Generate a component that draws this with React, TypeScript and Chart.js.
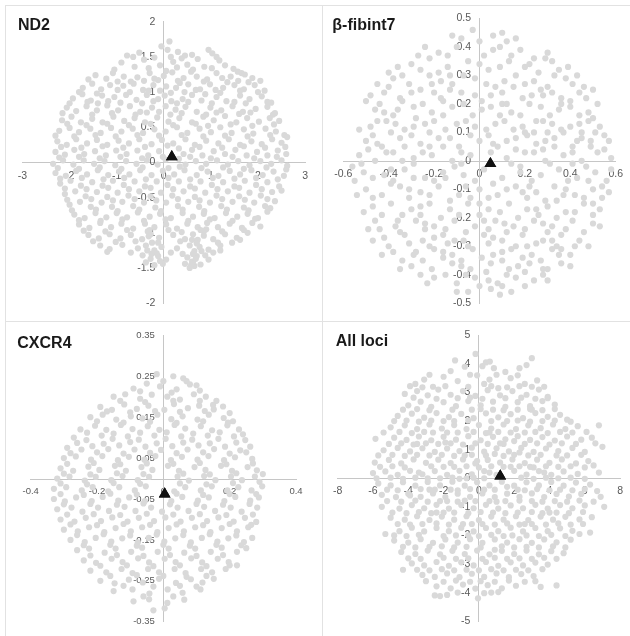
import { useEffect, useRef } from "react";
import { Chart, registerables } from "chart.js";

Chart.register(...registerables);

type P = [number, number];

// ---------- ND2 ----------
const nd2Points: P[] = [
  [0.12,1.72],[-0.05,1.65],[0.08,1.6],[0.95,1.6],[1.03,1.55],[-0.78,1.52],[-0.52,1.56],[0.3,1.57],[0.6,1.53],
  [-0.9,1.42],[-0.62,1.36],[-0.42,1.46],[-0.2,1.49],[-0.08,1.38],[0.2,1.43],[0.38,1.48],[0.5,1.39],[0.72,1.47],[0.86,1.36],[1.18,1.45],[1.3,1.38],[1.48,1.33],[1.57,1.29],
  [-1.45,1.24],[-1.22,1.19],[-1.08,1.27],[-0.85,1.22],[-0.7,1.15],[-0.56,1.21],[-0.3,1.27],[-0.12,1.17],[0.0,1.23],[0.18,1.28],[0.42,1.2],[0.58,1.29],[0.7,1.22],[0.92,1.18],[1.12,1.27],[1.24,1.2],[1.42,1.22],[1.65,1.27],[1.88,1.2],[2.05,1.16],
  [-1.72,1.06],[-1.52,1.12],[-1.33,1.04],[-1.14,1.1],[-0.98,1.03],[-0.86,1.09],[-0.64,1.12],[-0.44,1.03],[-0.22,1.1],[-0.08,1.02],[0.05,1.08],[0.26,1.06],[0.34,1.13],[0.52,1.11],[0.77,1.04],[0.98,1.11],[1.1,1.03],[1.26,1.06],[1.5,1.1],[1.7,1.04],[1.93,1.1],[2.14,1.02],
  [-1.93,0.91],[-1.73,0.97],[-1.55,0.88],[-1.31,0.95],[-1.18,0.87],[-1.05,0.93],[-0.8,0.96],[-0.58,0.89],[-0.36,0.96],[-0.12,0.9],[0.02,0.95],[0.16,0.87],[0.4,0.9],[0.6,0.96],[0.8,0.88],[0.88,0.97],[1.12,0.93],[1.33,0.87],[1.62,0.95],[1.82,0.9],[2.08,0.94],[2.28,0.85],
  [-2.06,0.78],[-1.86,0.73],[-1.64,0.8],[-1.42,0.74],[-1.2,0.81],[-0.97,0.74],[-0.72,0.8],[-0.5,0.72],[-0.25,0.78],[-0.1,0.72],[0.04,0.8],[0.25,0.75],[0.46,0.79],[0.7,0.72],[0.99,0.78],[1.22,0.74],[1.46,0.8],[1.68,0.72],[1.95,0.76],[2.2,0.79],[2.36,0.7],
  [-2.16,0.6],[-1.96,0.65],[-1.76,0.57],[-1.52,0.62],[-1.3,0.57],[-1.07,0.65],[-0.84,0.59],[-0.62,0.63],[-0.4,0.57],[-0.14,0.64],[0.1,0.58],[0.33,0.63],[0.6,0.57],[0.84,0.65],[1.06,0.6],[1.3,0.66],[1.54,0.57],[1.77,0.63],[2.02,0.58],[2.25,0.63],[2.45,0.59],
  [-2.22,0.45],[-2.0,0.49],[-1.8,0.43],[-1.56,0.48],[-1.34,0.42],[-1.12,0.49],[-0.9,0.44],[-0.66,0.48],[-0.44,0.42],[-0.2,0.47],[0.04,0.44],[0.28,0.5],[0.5,0.42],[0.76,0.48],[1.0,0.43],[1.2,0.5],[1.44,0.42],[1.7,0.47],[1.9,0.41],[2.16,0.48],[2.38,0.44],[2.56,0.39],
  [-2.26,0.3],[-2.06,0.25],[-1.86,0.33],[-1.63,0.27],[-1.42,0.32],[-1.2,0.25],[-0.96,0.31],[-0.74,0.27],[-0.52,0.33],[-0.26,0.26],[-0.04,0.32],[0.2,0.27],[0.46,0.33],[0.66,0.25],[0.9,0.31],[1.16,0.27],[1.38,0.33],[1.62,0.25],[1.86,0.3],[2.08,0.26],[2.3,0.33],[2.5,0.28],
  [-2.3,0.15],[-2.1,0.11],[-1.9,0.18],[-1.69,0.12],[-1.46,0.16],[-1.23,0.1],[-1.01,0.17],[-0.79,0.12],[-0.56,0.17],[-0.33,0.1],[-0.1,0.16],[0.42,0.12],[0.6,0.18],[0.82,0.1],[1.06,0.16],[1.3,0.12],[1.52,0.18],[1.76,0.1],[1.98,0.15],[2.2,0.1],[2.42,0.17],[2.6,0.12],
  [-2.35,-0.02],[-2.14,0.03],[-1.92,-0.03],[-1.7,0.03],[-1.48,-0.02],[-1.26,0.02],[-1.03,-0.04],[-0.8,0.02],[-0.58,-0.02],[-0.36,0.03],[-0.13,-0.03],[0.04,0.04],[0.46,-0.03],[0.68,0.02],[0.9,-0.02],[1.13,0.03],[1.36,-0.03],[1.58,0.02],[1.82,-0.04],[2.05,0.02],[2.28,-0.02],[2.5,0.03],[2.62,-0.05],
  [-2.3,-0.15],[-2.08,-0.19],[-1.86,-0.12],[-1.63,-0.17],[-1.4,-0.11],[-1.18,-0.18],[-0.95,-0.13],[-0.73,-0.17],[-0.5,-0.11],[-0.26,-0.18],[-0.02,-0.12],[0.22,-0.17],[0.44,-0.11],[0.7,-0.18],[0.93,-0.13],[1.16,-0.19],[1.4,-0.12],[1.62,-0.17],[1.86,-0.11],[2.1,-0.18],[2.33,-0.13],[2.55,-0.19],
  [-2.2,-0.3],[-1.98,-0.26],[-1.76,-0.33],[-1.52,-0.28],[-1.3,-0.33],[-1.08,-0.26],[-0.85,-0.32],[-0.62,-0.27],[-0.4,-0.34],[-0.15,-0.27],[0.08,-0.32],[0.32,-0.27],[0.56,-0.34],[0.78,-0.27],[1.02,-0.32],[1.26,-0.28],[1.5,-0.34],[1.72,-0.26],[1.96,-0.32],[2.2,-0.28],[2.45,-0.34],
  [-2.1,-0.45],[-1.88,-0.41],[-1.66,-0.48],[-1.42,-0.42],[-1.2,-0.49],[-0.98,-0.43],[-0.75,-0.47],[-0.52,-0.41],[-0.28,-0.48],[-0.06,-0.43],[0.18,-0.47],[0.42,-0.41],[0.66,-0.49],[0.88,-0.43],[1.12,-0.47],[1.36,-0.41],[1.6,-0.48],[1.82,-0.43],[2.06,-0.47],[2.3,-0.42],
  [-2.0,-0.6],[-1.78,-0.56],[-1.55,-0.63],[-1.32,-0.57],[-1.1,-0.63],[-0.88,-0.56],[-0.65,-0.62],[-0.42,-0.57],[-0.18,-0.64],[0.05,-0.57],[0.3,-0.62],[0.52,-0.56],[0.75,-0.63],[0.98,-0.57],[1.22,-0.62],[1.46,-0.56],[1.7,-0.64],[1.92,-0.57],[2.15,-0.62],[2.36,-0.55],
  [-1.9,-0.74],[-1.68,-0.79],[-1.45,-0.72],[-1.22,-0.78],[-1.0,-0.72],[-0.78,-0.78],[-0.55,-0.71],[-0.3,-0.77],[-0.08,-0.73],[0.15,-0.79],[0.4,-0.72],[0.62,-0.77],[0.85,-0.73],[1.08,-0.79],[1.32,-0.72],[1.56,-0.77],[1.78,-0.73],[2.0,-0.79],[2.2,-0.7],
  [-1.8,-0.88],[-1.58,-0.93],[-1.35,-0.86],[-1.12,-0.92],[-0.9,-0.87],[-0.65,-0.94],[-0.4,-0.87],[-0.2,-0.92],[0.05,-0.88],[0.28,-0.94],[0.5,-0.87],[0.72,-0.92],[0.92,-0.86],[1.15,-0.92],[1.4,-0.87],[1.66,-0.93],[1.88,-0.86],[2.05,-0.91],
  [-1.6,-1.03],[-1.38,-1.08],[-1.15,-1.02],[-0.92,-1.08],[-0.7,-1.03],[-0.46,-1.09],[-0.28,-1.02],[-0.1,-1.07],[0.2,-1.03],[0.45,-1.09],[0.62,-1.02],[0.72,-1.1],[0.85,-1.04],[1.05,-1.09],[1.3,-1.02],[1.55,-1.07],[1.78,-1.0],
  [-1.35,-1.18],[-1.15,-1.23],[-0.88,-1.17],[-0.55,-1.22],[-0.38,-1.18],[-0.2,-1.25],[-0.05,-1.2],[0.28,-1.22],[0.55,-1.18],[0.65,-1.26],[0.76,-1.2],[0.95,-1.24],[1.2,-1.18],[1.45,-1.14],
  [-0.45,-1.32],[-0.28,-1.37],[-0.12,-1.33],[0.05,-1.38],[0.5,-1.35],[0.6,-1.41],[0.7,-1.33],[0.88,-1.32],[1.05,-1.28],
  [-0.2,-1.46],[-0.02,-1.44],[0.55,-1.5],[0.65,-1.47],[0.78,-1.45],
  [0.62,-1.3],[0.68,-1.37],[0.7,-1.15],[0.8,-1.26],[0.85,-0.98],[0.9,-0.95],[0.62,-1.43],[0.58,-1.46],[-0.32,-1.05],[-0.25,-1.14],[-0.15,-1.29],[-0.35,-1.25],[-0.3,-0.96],
];
const nd2PointsFill: P[] = [
  [-0.65,1.5],[0.45,1.52],[0.15,1.5],[1.12,1.5],
  [-1.05,1.32],[-0.32,1.34],[0.05,1.3],[0.28,1.35],[0.62,1.32],[1.02,1.34],[1.72,1.25],
  [-1.6,1.18],[-0.98,1.15],[-0.42,1.16],[-0.2,1.19],[0.3,1.16],[0.85,1.15],[1.35,1.14],[1.58,1.16],[1.8,1.14],
  [-1.8,1.0],[-1.42,0.98],[-0.72,1.0],[-0.32,1.02],[0.15,0.99],[0.44,1.0],[0.68,1.03],[1.2,0.99],[1.62,1.02],[2.0,1.0],
  [-2.0,0.84],[-1.62,0.86],[-1.4,0.84],[-0.92,0.85],[-0.46,0.84],[-0.22,0.87],[0.28,0.84],[0.52,0.86],[1.02,0.84],[1.5,0.86],[1.74,0.84],[2.2,0.86],
  [-2.15,0.7],[-1.52,0.68],[-1.1,0.7],[-0.6,0.68],[-0.36,0.71],[0.14,0.68],[0.38,0.7],[0.9,0.68],[1.12,0.71],[1.6,0.69],[1.84,0.71],[2.32,0.68],
  [-2.05,0.55],[-1.64,0.53],[-1.2,0.55],[-0.74,0.53],[-0.28,0.55],[0.2,0.53],[0.68,0.55],[0.94,0.52],[1.42,0.54],[1.88,0.52],[2.34,0.54],
  [-2.3,0.38],[-1.9,0.37],[-1.45,0.39],[-1.02,0.37],[-0.56,0.39],[-0.1,0.38],[0.38,0.39],[0.84,0.37],[1.3,0.38],[1.78,0.37],[2.26,0.39],[2.62,0.36],
  [-2.18,0.22],[-1.75,0.21],[-1.3,0.23],[-0.86,0.21],[-0.4,0.22],[0.08,0.24],[0.32,0.2],[0.76,0.22],[1.24,0.21],[1.7,0.23],[2.15,0.21],[2.58,0.22],
  [-2.22,0.07],[-1.8,0.08],[-1.36,0.06],[-0.92,0.08],[-0.46,0.06],[-0.02,0.08],[0.32,0.05],[0.56,0.08],[1.0,0.06],[1.46,0.08],[1.92,0.06],[2.4,0.08],
  [-2.25,-0.08],[-1.8,-0.09],[-1.36,-0.07],[-0.9,-0.09],[-0.45,-0.07],[0.1,-0.08],[0.34,-0.06],[0.8,-0.08],[1.26,-0.07],[1.7,-0.09],[2.18,-0.07],[2.6,-0.1],
  [-2.2,-0.23],[-1.74,-0.22],[-1.28,-0.24],[-0.84,-0.22],[-0.38,-0.24],[0.1,-0.22],[0.56,-0.24],[1.04,-0.22],[1.5,-0.23],[1.96,-0.22],[2.42,-0.24],
  [-2.1,-0.37],[-1.64,-0.38],[-1.18,-0.36],[-0.74,-0.38],[-0.28,-0.36],[0.2,-0.38],[0.66,-0.37],[1.14,-0.38],[1.6,-0.36],[2.08,-0.38],[2.5,-0.4],
  [-2.05,-0.53],[-1.54,-0.52],[-1.08,-0.54],[-0.62,-0.52],[-0.16,-0.54],[0.3,-0.52],[0.76,-0.54],[1.24,-0.52],[1.72,-0.53],[2.2,-0.52],
  [-1.95,-0.68],[-1.44,-0.67],[-0.98,-0.69],[-0.52,-0.67],[-0.06,-0.69],[0.4,-0.67],[0.86,-0.69],[1.34,-0.67],[1.8,-0.68],[2.26,-0.65],
  [-1.8,-0.82],[-1.34,-0.83],[-0.88,-0.81],[-0.42,-0.83],[0.04,-0.81],[0.52,-0.83],[0.98,-0.81],[1.46,-0.83],[1.94,-0.8],
  [-1.7,-0.97],[-1.24,-0.98],[-0.78,-0.96],[-0.34,-0.98],[0.1,-0.96],[0.38,-0.99],[0.78,-0.96],[1.24,-0.98],[1.7,-0.96],
  [-1.5,-1.12],[-1.02,-1.13],[-0.6,-1.12],[-0.12,-1.14],[0.35,-1.12],[0.6,-1.1],[1.15,-1.14],[1.62,-1.1],
  [-1.2,-1.27],[-0.7,-1.28],[-0.26,-1.3],[0.15,-1.28],[0.4,-1.3],[1.2,-1.25],
  [-0.38,-1.42],[-0.08,-1.4],[0.45,-1.44],[0.95,-1.38],
];
const nd2Mean: P[] = [[0.17, 0.08]];
const nd2XTicks = [-3, -2, -1, 0, 1, 2, 3];
const nd2YTicks = [-2, -1.5, -1, -0.5, 0, 0.5, 1, 1.5, 2];

// ---------- β-fibint7 ----------
const fibPoints: P[] = [
  [-0.03,0.46],[0.06,0.44],[0.12,0.42],[-0.08,0.43],
  [-0.18,0.38],[-0.1,0.4],[0.02,0.37],[0.09,0.4],[0.18,0.39],[0.24,0.36],
  [-0.3,0.34],[-0.22,0.36],[-0.14,0.33],[-0.05,0.35],[0.04,0.32],[0.13,0.35],[0.2,0.33],[0.29,0.36],[0.35,0.32],
  [-0.38,0.29],[-0.31,0.27],[-0.22,0.3],[-0.12,0.27],[-0.02,0.29],[0.07,0.26],[0.16,0.3],[0.24,0.28],[0.33,0.3],[0.41,0.27],
  [-0.42,0.24],[-0.35,0.22],[-0.26,0.25],[-0.17,0.22],[-0.08,0.24],[0.01,0.21],[0.1,0.24],[0.19,0.22],[0.27,0.25],[0.36,0.22],[0.44,0.24],
  [-0.46,0.18],[-0.38,0.16],[-0.29,0.19],[-0.21,0.17],[-0.12,0.19],[-0.03,0.16],[0.05,0.19],[0.14,0.17],[0.22,0.2],[0.31,0.16],[0.4,0.19],[0.48,0.17],
  [-0.48,0.12],[-0.41,0.14],[-0.33,0.11],[-0.24,0.13],[-0.15,0.11],[-0.06,0.14],[0.03,0.11],[0.11,0.14],[0.19,0.12],[0.28,0.14],[0.36,0.11],[0.44,0.13],[0.51,0.1],
  [-0.5,0.07],[-0.43,0.05],[-0.35,0.08],[-0.26,0.06],[-0.18,0.08],[-0.09,0.05],[0.0,0.07],[0.08,0.05],[0.16,0.08],[0.25,0.06],[0.33,0.08],[0.41,0.05],[0.49,0.07],[0.55,0.09],
  [-0.53,0.02],[-0.46,0.0],[-0.38,0.03],[-0.29,0.01],[-0.21,0.02],[-0.12,0.0],[-0.04,0.02],[0.12,0.01],[0.2,0.03],[0.29,0.0],[0.37,0.02],[0.45,0.0],[0.52,0.03],[0.58,0.01],
  [-0.51,-0.04],[-0.42,-0.05],[-0.33,-0.03],[-0.24,-0.06],[-0.16,-0.04],[-0.07,-0.05],[0.02,-0.03],[0.1,-0.06],[0.18,-0.04],[0.27,-0.05],[0.35,-0.03],[0.43,-0.06],[0.51,-0.04],[0.56,-0.07],
  [-0.5,-0.1],[-0.43,-0.12],[-0.35,-0.09],[-0.26,-0.11],[-0.18,-0.09],[-0.09,-0.12],[0.0,-0.1],[0.08,-0.12],[0.16,-0.09],[0.25,-0.11],[0.33,-0.09],[0.42,-0.12],[0.5,-0.1],
  [-0.47,-0.16],[-0.39,-0.15],[-0.3,-0.17],[-0.22,-0.15],[-0.13,-0.17],[-0.05,-0.15],[0.04,-0.17],[0.13,-0.15],[0.21,-0.17],[0.3,-0.16],[0.38,-0.18],[0.46,-0.15],[0.53,-0.17],
  [-0.46,-0.21],[-0.37,-0.23],[-0.28,-0.21],[-0.2,-0.23],[-0.11,-0.21],[-0.02,-0.23],[0.07,-0.21],[0.15,-0.23],[0.24,-0.21],[0.32,-0.23],[0.41,-0.21],[0.5,-0.22],
  [-0.42,-0.27],[-0.33,-0.26],[-0.25,-0.28],[-0.16,-0.26],[-0.07,-0.28],[0.02,-0.26],[0.1,-0.28],[0.19,-0.26],[0.28,-0.28],[0.36,-0.26],[0.44,-0.28],
  [-0.38,-0.32],[-0.29,-0.33],[-0.2,-0.31],[-0.12,-0.33],[-0.03,-0.31],[0.06,-0.33],[0.14,-0.31],[0.23,-0.33],[0.32,-0.31],[0.4,-0.33],
  [-0.3,-0.37],[-0.21,-0.38],[-0.12,-0.36],[-0.04,-0.38],[0.05,-0.36],[0.13,-0.38],[0.22,-0.36],[0.3,-0.38],[0.36,-0.36],
  [-0.2,-0.41],[-0.1,-0.43],[-0.02,-0.41],[0.08,-0.43],[0.16,-0.41],[0.24,-0.42],
  [-0.05,-0.46],[0.05,-0.45],[0.14,-0.46],
  [0.0,0.42],[0.1,0.45],[-0.14,0.37],[0.14,0.37],[0.22,0.34],[-0.26,0.32],[-0.18,0.31],[0.0,0.34],[0.26,0.31],[0.38,0.29],[-0.34,0.3],[-0.07,0.3],[0.11,0.28],[0.2,0.27],[0.3,0.26],
  [-0.4,0.26],[-0.3,0.24],[-0.21,0.27],[-0.13,0.25],[0.05,0.23],[0.15,0.26],[0.23,0.23],[0.32,0.24],[0.4,0.21],[0.47,0.22],[-0.44,0.2],[-0.34,0.21],[-0.25,0.2],[-0.16,0.21],[-0.07,0.2],
  [0.01,0.18],[0.1,0.2],[0.18,0.16],[0.27,0.19],[0.35,0.18],[0.44,0.16],[-0.45,0.14],[-0.37,0.13],[-0.28,0.15],[-0.2,0.14],[-0.1,0.13],[0.07,0.13],[0.15,0.11],[0.24,0.1],[0.32,0.13],
  [0.4,0.12],[0.48,0.14],[0.53,0.12],[-0.47,0.09],[-0.39,0.1],[-0.3,0.09],[-0.22,0.1],[-0.13,0.08],[-0.04,0.09],[0.04,0.09],[0.12,0.07],[0.21,0.09],[0.29,0.07],[0.37,0.1],[0.45,0.08],
  [-0.49,0.04],[-0.41,0.03],[-0.33,0.05],[-0.25,0.03],[-0.16,0.05],[-0.08,0.03],[0.16,0.04],[0.24,0.03],[0.33,0.05],[0.41,0.03],[0.49,0.05],[0.55,0.04],[-0.52,-0.01],[-0.47,-0.06],[-0.38,-0.07],
  [-0.29,-0.01],[-0.2,-0.07],[-0.11,-0.02],[0.06,-0.08],[0.14,-0.01],[0.23,-0.07],[0.31,-0.01],[0.39,-0.07],[0.47,-0.02],[0.54,-0.09],[-0.47,-0.13],[-0.39,-0.08],[-0.31,-0.13],[-0.22,-0.12],[-0.13,-0.14],
  [-0.04,-0.13],[0.04,-0.13],[0.12,-0.1],[0.21,-0.13],[0.29,-0.14],[0.37,-0.12],[0.46,-0.13],[0.54,-0.13],[-0.43,-0.19],[-0.34,-0.19],[-0.26,-0.19],[-0.17,-0.2],[-0.09,-0.19],[0.0,-0.19],[0.09,-0.18],
  [0.17,-0.2],[0.26,-0.19],[0.34,-0.2],[0.42,-0.18],[0.5,-0.19],[-0.44,-0.24],[-0.35,-0.25],[-0.24,-0.24],[-0.15,-0.24],[-0.06,-0.25],[0.04,-0.24],[0.12,-0.25],[0.2,-0.24],[0.3,-0.25],[0.38,-0.24],
  [0.46,-0.25],[-0.4,-0.3],[-0.31,-0.29],[-0.22,-0.3],[-0.14,-0.29],[-0.05,-0.3],[0.04,-0.29],[0.16,-0.3],[0.25,-0.29],[0.34,-0.3],[0.42,-0.3],[-0.34,-0.35],[-0.25,-0.35],[-0.16,-0.34],[-0.08,-0.35],
  [0.01,-0.34],[0.1,-0.35],[0.19,-0.34],[0.27,-0.35],[0.35,-0.33],[-0.26,-0.4],[-0.15,-0.4],[-0.06,-0.4],[0.03,-0.39],[0.12,-0.4],[0.2,-0.39],[0.28,-0.4],[0.0,-0.44],[0.1,-0.44],
];
const fibPointsFill: P[] = [
  [-0.12,0.44],[0.16,0.43],[-0.24,0.4],[0.06,0.39],[0.3,0.38],[-0.36,0.33],[0.09,0.33],[0.39,0.33],[-0.45,0.27],[-0.17,0.28],[0.03,0.27],[0.28,0.23],[0.46,0.26],
  [-0.5,0.21],[-0.2,0.24],[-0.02,0.23],[0.36,0.2],[0.52,0.2],[-0.42,0.17],[-0.16,0.16],[0.09,0.16],[0.25,0.14],[0.5,0.15],[-0.53,0.11],[-0.29,0.12],[-0.02,0.12],[0.2,0.1],[0.45,0.1],[0.57,0.07],
  [-0.45,0.06],[-0.22,0.05],[0.05,0.03],[0.28,0.04],[0.43,0.07],[-0.56,-0.02],[-0.34,0.0],[-0.08,-0.01],[0.18,-0.02],[0.41,-0.01],[0.58,-0.03],[-0.55,-0.07],[-0.29,-0.06],[-0.02,-0.07],[0.22,-0.09],[0.48,-0.07],
  [-0.54,-0.12],[-0.31,-0.1],[-0.06,-0.09],[0.19,-0.11],[0.38,-0.1],[0.57,-0.11],[-0.51,-0.18],[-0.26,-0.16],[0.0,-0.15],[0.25,-0.17],[0.5,-0.15],[-0.49,-0.24],[-0.24,-0.22],[0.02,-0.21],[0.28,-0.22],[0.53,-0.23],
  [-0.47,-0.28],[-0.2,-0.27],[0.06,-0.27],[0.32,-0.28],[0.48,-0.3],[-0.43,-0.33],[-0.16,-0.32],[0.1,-0.32],[0.36,-0.31],[-0.35,-0.38],[-0.08,-0.37],[0.17,-0.37],[0.4,-0.37],[-0.23,-0.43],[0.04,-0.42],[0.2,-0.44],[0.3,-0.42],
  [-0.1,-0.46],[0.09,-0.47],[-0.27,0.37],[0.32,0.35],[-0.4,0.31],[0.43,0.3],[-0.48,0.23],[0.5,0.25],[-0.13,0.3],[0.12,0.2],[-0.36,0.18],[0.3,0.1],[-0.39,-0.03],[0.06,0.06],[-0.15,-0.06],[0.34,-0.14],
  [-0.36,-0.21],[0.11,-0.22],[-0.11,-0.28],[0.21,-0.3],[-0.28,-0.32],[0.28,-0.38],
];
const fibMean: P[] = [[0.048, -0.01]];
const fibXTicks = [-0.6, -0.4, -0.2, 0, 0.2, 0.4, 0.6];
const fibYTicks = [-0.5, -0.4, -0.3, -0.2, -0.1, 0, 0.1, 0.2, 0.3, 0.4, 0.5];

// ---------- CXCR4 ----------
const cxPoints: P[] = [
  [-0.02,0.255],[0.03,0.25],[0.06,0.245],
  [-0.09,0.22],[-0.05,0.232],[-0.01,0.225],[0.04,0.218],[0.08,0.23],[0.11,0.215],
  [-0.15,0.2],[-0.115,0.206],[-0.07,0.195],[-0.035,0.205],[0.012,0.2],[0.05,0.193],[0.092,0.206],[0.128,0.2],[0.16,0.19],
  [-0.19,0.175],[-0.155,0.168],[-0.118,0.181],[-0.08,0.17],[-0.045,0.178],[0.003,0.168],[0.032,0.182],[0.074,0.172],[0.108,0.178],[0.152,0.169],[0.18,0.176],
  [-0.22,0.15],[-0.183,0.156],[-0.142,0.144],[-0.098,0.152],[-0.063,0.147],[-0.018,0.156],[0.024,0.145],[0.058,0.152],[0.103,0.144],[0.137,0.156],[0.182,0.148],[0.21,0.14],
  [-0.25,0.12],[-0.206,0.129],[-0.172,0.119],[-0.128,0.131],[-0.093,0.121],[-0.047,0.128],[-0.012,0.119],[0.034,0.131],[0.066,0.122],[0.113,0.128],[0.147,0.118],[0.193,0.13],[0.228,0.12],
  [-0.27,0.1],[-0.232,0.094],[-0.186,0.105],[-0.153,0.097],[-0.107,0.103],[-0.074,0.095],[-0.027,0.105],[0.007,0.097],[0.054,0.103],[0.087,0.095],[0.134,0.105],[0.166,0.097],[0.213,0.103],[0.247,0.094],
  [-0.29,0.075],[-0.247,0.071],[-0.214,0.079],[-0.166,0.072],[-0.133,0.081],[-0.087,0.071],[-0.054,0.078],[-0.007,0.07],[0.027,0.079],[0.073,0.071],[0.106,0.081],[0.153,0.072],[0.186,0.078],[0.232,0.069],[0.262,0.078],
  [-0.3,0.05],[-0.264,0.054],[-0.218,0.046],[-0.184,0.055],[-0.137,0.045],[-0.104,0.053],[-0.057,0.046],[-0.024,0.055],[0.023,0.045],[0.056,0.053],[0.103,0.046],[0.136,0.055],[0.183,0.045],[0.216,0.052],[0.268,0.048],
  [-0.31,0.025],[-0.272,0.019],[-0.226,0.029],[-0.193,0.021],[-0.146,0.031],[-0.113,0.019],[-0.066,0.028],[-0.033,0.021],[0.014,0.031],[0.047,0.019],[0.094,0.028],[0.127,0.021],[0.174,0.031],[0.207,0.019],[0.254,0.028],[0.282,0.02],
  [-0.32,0.0],[-0.283,0.005],[-0.237,-0.005],[-0.204,0.004],[-0.157,-0.004],[-0.123,0.006],[-0.077,-0.004],[-0.043,0.004],[0.043,0.005],[0.077,-0.005],[0.123,0.006],[0.157,-0.004],[0.204,0.005],[0.237,-0.004],[0.276,0.005],[0.3,0.011],
  [-0.33,-0.025],[-0.293,-0.021],[-0.246,-0.029],[-0.213,-0.021],[-0.166,-0.031],[-0.133,-0.021],[-0.086,-0.029],[-0.053,-0.019],[0.033,-0.031],[0.066,-0.021],[0.113,-0.029],[0.146,-0.019],[0.193,-0.029],[0.226,-0.021],[0.266,-0.029],[0.298,-0.019],
  [-0.33,-0.05],[-0.297,-0.056],[-0.263,-0.046],[-0.216,-0.055],[-0.183,-0.045],[-0.136,-0.054],[-0.103,-0.046],[-0.056,-0.055],[0.024,-0.055],[0.057,-0.045],[0.104,-0.054],[0.137,-0.046],[0.184,-0.055],[0.217,-0.045],[0.262,-0.054],[0.288,-0.046],
  [-0.32,-0.075],[-0.277,-0.071],[-0.244,-0.081],[-0.197,-0.071],[-0.164,-0.079],[-0.117,-0.069],[-0.084,-0.079],[-0.037,-0.071],[-0.004,-0.081],[0.043,-0.071],[0.076,-0.079],[0.123,-0.069],[0.156,-0.079],[0.203,-0.071],[0.236,-0.081],[0.283,-0.071],
  [-0.31,-0.1],[-0.268,-0.105],[-0.234,-0.096],[-0.188,-0.104],[-0.154,-0.095],[-0.108,-0.105],[-0.074,-0.096],[-0.028,-0.104],[0.006,-0.095],[0.052,-0.105],[0.086,-0.096],[0.132,-0.104],[0.166,-0.095],[0.212,-0.105],[0.246,-0.096],[0.28,-0.106],
  [-0.3,-0.125],[-0.258,-0.129],[-0.224,-0.119],[-0.178,-0.131],[-0.144,-0.121],[-0.098,-0.129],[-0.064,-0.119],[-0.018,-0.131],[0.016,-0.121],[0.062,-0.129],[0.096,-0.119],[0.142,-0.131],[0.176,-0.121],[0.222,-0.129],[0.256,-0.119],
  [-0.28,-0.15],[-0.237,-0.155],[-0.204,-0.145],[-0.157,-0.154],[-0.124,-0.146],[-0.077,-0.156],[-0.044,-0.145],[0.003,-0.154],[0.036,-0.146],[0.083,-0.156],[0.116,-0.145],[0.163,-0.154],[0.196,-0.146],[0.243,-0.155],[0.268,-0.145],
  [-0.26,-0.175],[-0.224,-0.171],[-0.177,-0.181],[-0.144,-0.171],[-0.097,-0.179],[-0.064,-0.169],[-0.017,-0.179],[0.016,-0.171],[0.063,-0.181],[0.096,-0.171],[0.143,-0.179],[0.176,-0.169],[0.222,-0.179],[0.25,-0.17],
  [-0.24,-0.2],[-0.203,-0.206],[-0.156,-0.196],[-0.123,-0.204],[-0.076,-0.195],[-0.043,-0.205],[0.004,-0.196],[0.037,-0.204],[0.084,-0.195],[0.117,-0.205],[0.164,-0.196],[0.197,-0.204],[0.222,-0.212],
  [-0.22,-0.225],[-0.172,-0.229],[-0.126,-0.221],[-0.093,-0.231],[-0.046,-0.221],[-0.013,-0.229],[0.034,-0.221],[0.067,-0.231],[0.114,-0.221],[0.147,-0.229],[0.188,-0.221],
  [-0.19,-0.25],[-0.147,-0.256],[-0.104,-0.247],[-0.062,-0.254],[-0.013,-0.245],[0.038,-0.255],[0.083,-0.246],[0.118,-0.254],[0.152,-0.245],
  [-0.15,-0.275],[-0.093,-0.271],[-0.042,-0.281],[0.013,-0.271],[0.058,-0.279],[0.112,-0.271],
  [-0.09,-0.3],[-0.043,-0.295],[0.012,-0.304],[0.063,-0.296],
  [-0.03,-0.322],[0.004,-0.317],
];
const cxPointsFill: P[] = [
  [0.0,0.238],[0.07,0.238],[-0.07,0.213],[0.025,0.21],[0.1,0.228],[-0.13,0.19],[-0.055,0.187],[0.03,0.19],[0.11,0.19],[0.15,0.18],[-0.17,0.164],[-0.1,0.162],[-0.025,0.165],[0.05,0.163],[0.125,0.165],[0.2,0.16],
  [-0.2,0.14],[-0.12,0.137],[-0.04,0.139],[0.04,0.136],[0.12,0.14],[0.195,0.137],[-0.23,0.112],[-0.15,0.11],[-0.07,0.112],[0.01,0.113],[0.09,0.11],[0.17,0.113],[0.24,0.108],[-0.26,0.087],[-0.18,0.085],[-0.1,0.089],
  [-0.02,0.086],[0.06,0.088],[0.14,0.086],[0.22,0.088],[-0.28,0.062],[-0.2,0.064],[-0.12,0.061],[-0.04,0.063],[0.04,0.062],[0.12,0.064],[0.2,0.061],[0.25,0.064],[-0.29,0.036],[-0.21,0.038],[-0.13,0.035],[-0.05,0.037],
  [0.03,0.036],[0.11,0.038],[0.19,0.035],[0.27,0.037],[-0.3,0.012],[-0.22,0.01],[-0.14,0.013],[-0.06,0.011],[0.06,0.012],[0.14,0.01],[0.22,0.013],[0.29,-0.008],[-0.31,-0.012],[-0.23,-0.014],[-0.15,-0.011],[-0.07,-0.013],
  [0.05,-0.012],[0.13,-0.014],[0.21,-0.011],[0.28,-0.038],[-0.31,-0.038],[-0.24,-0.04],[-0.16,-0.037],[-0.08,-0.039],[0.04,-0.037],[0.12,-0.04],[0.2,-0.038],[-0.3,-0.063],[-0.22,-0.062],[-0.14,-0.064],[-0.06,-0.061],
  [0.02,-0.063],[0.1,-0.062],[0.18,-0.064],[0.26,-0.062],[-0.29,-0.088],[-0.21,-0.087],[-0.13,-0.089],[-0.05,-0.086],[0.03,-0.088],[0.11,-0.087],[0.19,-0.089],[0.27,-0.088],[-0.28,-0.112],[-0.2,-0.114],[-0.12,-0.111],
  [-0.04,-0.113],[0.04,-0.112],[0.12,-0.114],[0.2,-0.111],[0.265,-0.113],[-0.26,-0.138],[-0.18,-0.136],[-0.1,-0.139],[-0.02,-0.137],[0.06,-0.138],[0.14,-0.136],[0.22,-0.139],[-0.24,-0.163],[-0.16,-0.162],
  [-0.08,-0.164],[0.0,-0.162],[0.08,-0.164],[0.16,-0.162],[0.235,-0.163],[-0.22,-0.188],[-0.14,-0.187],[-0.06,-0.189],[0.02,-0.187],[0.1,-0.189],[0.18,-0.187],[-0.19,-0.213],[-0.11,-0.212],[-0.03,-0.214],[0.05,-0.212],
  [0.13,-0.214],[0.2,-0.212],[-0.16,-0.238],[-0.08,-0.236],[0.0,-0.238],[0.07,-0.24],[0.13,-0.238],[-0.12,-0.262],[-0.03,-0.264],[0.05,-0.262],[0.1,-0.264],[-0.06,-0.288],[0.03,-0.288],
];
const cxMean: P[] = [[0.004, -0.038]];
const cxXTicks = [-0.4, -0.2, 0, 0.2, 0.4];
const cxYTicks = [-0.35, -0.25, -0.15, -0.05, 0.05, 0.15, 0.25, 0.35];

// ---------- All loci ----------
const allPoints: P[] = [
  [-1.35,4.12],[-0.19,4.35],[0.4,4.05],[0.62,4.08],[0.85,3.85],[2.3,3.85],[2.7,3.96],[3.0,4.2],
  [-3.6,3.3],[-3.1,3.45],[-2.6,3.2],[-2.0,3.55],[-1.2,3.4],[-0.5,3.62],[0.3,3.3],[0.6,3.45],[1.1,3.15],[1.8,3.5],[2.6,3.3],[3.3,3.42],[-1.6,3.75],[-0.8,3.9],[0.2,3.92],[1.5,3.72],[3.7,3.2],
  [-4.2,2.95],[-3.5,3.05],[-2.9,2.9],[-2.3,3.1],[-1.6,2.92],[-0.9,3.05],[-0.2,2.88],[0.5,3.08],[1.2,2.9],[1.9,3.05],[2.7,2.92],[3.4,3.1],[3.9,2.85],
  [-4.0,2.55],[-3.3,2.68],[-2.7,2.5],[-2.0,2.66],[-1.3,2.52],[-0.6,2.7],[0.1,2.55],[0.8,2.68],[1.5,2.5],[2.2,2.66],[2.9,2.52],[3.6,2.7],[4.3,2.58],
  [-4.6,2.18],[-3.8,2.26],[-3.1,2.12],[-2.4,2.28],[-1.7,2.14],[-1.0,2.25],[-0.3,2.1],[0.4,2.27],[1.1,2.13],[1.8,2.24],[2.5,2.1],[3.2,2.28],[3.9,2.15],[4.6,2.22],[5.0,2.05],
  [-5.0,1.78],[-4.2,1.85],[-3.5,1.72],[-2.8,1.88],[-2.1,1.74],[-1.4,1.86],[-0.7,1.72],[0.0,1.86],[0.7,1.74],[1.4,1.88],[2.1,1.72],[2.8,1.85],[3.5,1.75],[4.2,1.88],[4.9,1.72],[5.6,1.82],[6.8,1.85],
  [-5.86,1.38],[-4.8,1.42],[-4.1,1.34],[-3.4,1.46],[-2.7,1.33],[-2.0,1.45],[-1.3,1.35],[-0.6,1.47],[0.1,1.33],[0.8,1.45],[1.5,1.36],[2.2,1.47],[2.9,1.34],[3.6,1.44],[4.3,1.32],[5.0,1.46],[5.8,1.35],[6.4,1.42],
  [-5.4,0.98],[-4.6,1.06],[-3.9,0.94],[-3.2,1.05],[-2.5,0.92],[-1.8,1.04],[-1.1,0.95],[-0.4,1.07],[0.3,0.93],[1.0,1.05],[1.7,0.94],[2.4,1.06],[3.1,0.92],[3.8,1.04],[4.5,0.95],[5.3,1.06],[6.0,0.92],[7.0,1.1],
  [-5.9,0.55],[-5.1,0.64],[-4.4,0.52],[-3.7,0.66],[-3.0,0.54],[-2.3,0.65],[-1.6,0.53],[-0.9,0.66],[-0.2,0.52],[0.5,0.64],[1.2,0.55],[1.9,0.66],[2.6,0.53],[3.3,0.65],[4.0,0.54],[4.7,0.66],[5.5,0.52],[6.2,0.6],
  [-6.0,0.18],[-5.3,0.24],[-4.6,0.12],[-3.9,0.26],[-3.2,0.14],[-2.5,0.25],[-1.8,0.12],[-1.1,0.26],[-0.4,0.14],[0.3,0.25],[1.0,0.12],[2.0,0.26],[2.7,0.13],[3.4,0.25],[4.1,0.12],[4.8,0.24],[5.6,0.15],[6.8,0.2],
  [-5.7,-0.18],[-5.0,-0.25],[-4.3,-0.14],[-3.6,-0.26],[-2.9,-0.13],[-2.2,-0.25],[-1.5,-0.12],[-0.8,-0.26],[-0.1,-0.14],[0.6,-0.25],[1.3,-0.12],[2.0,-0.26],[2.7,-0.14],[3.4,-0.25],[4.1,-0.13],[4.8,-0.26],[5.5,-0.15],[6.3,-0.22],
  [-5.5,-0.58],[-4.7,-0.66],[-4.0,-0.54],[-3.3,-0.65],[-2.6,-0.53],[-1.9,-0.66],[-1.2,-0.54],[-0.5,-0.65],[0.2,-0.53],[0.9,-0.66],[1.6,-0.54],[2.3,-0.65],[3.0,-0.53],[3.7,-0.66],[4.4,-0.55],[5.1,-0.64],[5.8,-0.55],[6.9,-0.65],
  [-5.5,-1.0],[-4.5,-1.06],[-3.8,-0.94],[-3.1,-1.05],[-2.4,-0.93],[-1.7,-1.06],[-1.0,-0.94],[-0.3,-1.05],[0.4,-0.93],[1.1,-1.06],[1.8,-0.95],[2.5,-1.05],[3.2,-0.93],[3.9,-1.06],[4.6,-0.94],[5.3,-1.05],[6.0,-0.95],[7.1,-1.0],
  [-5.0,-1.38],[-4.2,-1.45],[-3.5,-1.33],[-2.8,-1.46],[-2.1,-1.34],[-1.4,-1.45],[-0.7,-1.33],[0.0,-1.46],[0.7,-1.34],[1.4,-1.45],[2.1,-1.33],[2.8,-1.46],[3.5,-1.34],[4.2,-1.45],[4.9,-1.35],[5.7,-1.44],[6.4,-1.36],
  [-5.3,-1.95],[-4.5,-1.85],[-3.8,-1.73],[-3.1,-1.86],[-2.4,-1.74],[-1.7,-1.85],[-1.0,-1.73],[-0.3,-1.86],[0.4,-1.74],[1.1,-1.85],[1.8,-1.73],[2.5,-1.86],[3.2,-1.74],[3.9,-1.85],[4.6,-1.75],[5.3,-1.84],[6.3,-1.9],
  [-4.8,-2.18],[-4.0,-2.25],[-3.3,-2.13],[-2.6,-2.26],[-1.9,-2.14],[-1.2,-2.25],[-0.5,-2.13],[0.2,-2.26],[0.9,-2.14],[1.6,-2.25],[2.3,-2.13],[3.0,-2.26],[3.7,-2.14],[4.4,-2.24],[5.2,-2.15],
  [-4.4,-2.58],[-3.6,-2.65],[-2.9,-2.53],[-2.2,-2.66],[-1.5,-2.54],[-0.8,-2.65],[-0.1,-2.53],[0.6,-2.66],[1.3,-2.54],[2.0,-2.65],[2.7,-2.53],[3.4,-2.66],[4.1,-2.55],[4.8,-2.62],
  [-3.8,-2.98],[-3.1,-3.05],[-2.4,-2.93],[-1.7,-3.06],[-1.0,-2.94],[-0.3,-3.05],[0.4,-2.93],[1.1,-3.06],[1.8,-2.94],[2.5,-3.05],[3.2,-2.95],[3.9,-3.02],
  [-4.3,-3.2],[-3.2,-3.38],[-2.5,-3.45],[-1.8,-3.33],[-1.1,-3.46],[-0.4,-3.34],[0.3,-3.45],[1.0,-3.33],[1.7,-3.46],[2.4,-3.35],[3.1,-3.42],
  [-2.4,-3.78],[-1.6,-3.85],[-0.9,-3.72],[-0.2,-3.86],[0.5,-3.74],[1.3,-3.85],[2.1,-3.76],[3.5,-3.8],[4.4,-3.75],
  [-2.5,-4.1],[-2.2,-4.12],[-1.8,-4.08],[-0.05,-4.2],[0.7,-4.0],
  [-2.6,1.6],[-1.9,1.25],[-1.2,1.6],[-0.8,0.8],[-1.4,0.4],[-2.2,0.0],[-2.8,-0.4],[-1.8,-0.8],[-1.4,-1.2],[-0.9,-1.6],[-0.2,-0.8],[0.3,-0.4],[0.8,-1.2],[1.5,-0.8],[2.2,-0.4],[1.8,0.4],
  [2.3,0.9],[1.4,1.2],[0.6,1.6],[2.0,1.3],[2.9,0.4],[3.0,-0.8],[2.6,-1.6],[0.2,-1.6],[-0.6,-2.0],[-2.4,-1.2],[-3.4,0.2],[-3.5,1.2],[-2.0,2.0],[0.8,2.4],[-0.4,2.4],[1.6,2.0],
  [2.6,1.6],[3.0,2.4],[-3.2,-1.6],[-2.8,-2.4],[0.9,-2.5],[1.9,-2.0],[-0.1,0.6],[0.6,0.2],[-0.7,0.0],[1.6,-0.3],[-1.6,-0.4],[0.9,0.85],[-3.9,-0.6],[3.7,0.2],[4.4,0.8],[4.0,-1.2],
];
const allPointsFill: P[] = [
  [-2.8,3.62],[-0.1,3.6],[1.0,3.62],[2.2,3.6],
  [-3.9,3.22],[-3.2,3.18],[-1.9,3.22],[-0.6,3.2],[0.7,3.22],[1.6,3.18],[2.3,3.22],[3.0,3.2],
  [-3.7,2.82],[-2.4,2.78],[-1.2,2.8],[-0.5,2.82],[0.2,2.78],[1.5,2.8],[2.4,2.82],[3.2,2.78],[3.9,2.8],
  [-4.3,2.4],[-3.5,2.42],[-2.8,2.38],[-1.5,2.4],[0.1,2.42],[1.4,2.38],[2.2,2.4],[2.9,2.42],[3.6,2.38],[4.3,2.42],
  [-4.8,2.0],[-4.1,2.02],[-3.4,1.98],[-2.7,2.02],[-1.4,2.0],[-0.6,2.02],[0.7,2.0],[2.2,2.02],[2.9,1.98],[3.6,2.0],[4.3,2.02],[5.2,1.98],
  [-5.4,1.6],[-4.5,1.62],[-3.8,1.58],[-3.1,1.62],[-1.8,1.6],[-0.3,1.62],[0.4,1.58],[1.1,1.62],[1.8,1.6],[3.2,1.62],[3.9,1.58],[4.6,1.62],[5.3,1.6],[6.1,1.62],
  [-5.1,1.2],[-4.4,1.22],[-3.7,1.18],[-3.0,1.22],[-2.3,1.2],[-1.6,1.22],[-0.9,1.18],[-0.2,1.22],[0.5,1.2],[1.2,1.22],[2.6,1.2],[3.3,1.22],[4.0,1.18],[4.7,1.22],[5.5,1.2],[6.6,1.22],
  [-5.7,0.8],[-4.9,0.82],[-4.2,0.78],[-3.5,0.82],[-2.8,0.8],[-2.1,0.82],[-1.4,0.78],[-0.4,0.82],[0.4,0.8],[1.4,0.78],[2.0,0.82],[2.8,0.8],[3.5,0.82],[5.0,0.8],[5.8,0.82],
  [-5.6,0.4],[-4.9,0.42],[-4.2,0.38],[-2.7,0.42],[-2.0,0.4],[-0.7,0.42],[0.0,0.38],[0.7,0.42],[1.4,0.4],[2.3,0.42],[3.1,0.38],[3.8,0.42],[4.5,0.4],[5.2,0.42],[6.0,0.38],[6.5,0.45],
  [-5.8,0.0],[-5.0,0.02],[-4.3,-0.02],[-3.6,0.02],[-2.9,0.0],[-1.5,0.02],[-1.1,-0.02],[-0.3,0.02],[0.3,0.0],[2.4,0.02],[3.1,-0.02],[3.8,0.02],[4.5,0.0],[5.2,0.02],[6.0,-0.02],
  [-5.2,-0.4],[-4.6,-0.42],[-3.3,-0.38],[-2.5,-0.4],[-1.2,-0.42],[-0.5,-0.38],[0.9,-0.4],[2.6,-0.42],[3.3,-0.38],[4.0,-0.42],[4.6,-0.4],[5.3,-0.42],[6.0,-0.38],[6.7,-0.45],
  [-5.2,-0.8],[-4.4,-0.82],[-3.6,-0.78],[-2.9,-0.82],[-2.2,-0.8],[-1.2,-0.82],[-0.8,-0.78],[0.6,-0.8],[1.0,-0.82],[2.3,-0.78],[3.6,-0.82],[4.3,-0.8],[5.0,-0.82],[5.7,-0.78],[6.5,-0.82],
  [-4.9,-1.2],[-4.1,-1.22],[-3.4,-1.18],[-2.7,-1.22],[-2.0,-1.2],[-0.6,-1.22],[0.1,-1.18],[1.5,-1.22],[2.2,-1.2],[3.0,-1.18],[3.6,-1.22],[4.4,-1.2],[5.1,-1.22],[5.9,-1.18],
  [-4.6,-1.6],[-3.9,-1.62],[-2.4,-1.58],[-1.7,-1.62],[-0.4,-1.6],[0.9,-1.62],[1.6,-1.58],[2.3,-1.62],[3.0,-1.6],[3.8,-1.62],[4.5,-1.58],[5.2,-1.62],[5.9,-1.6],
  [-4.8,-2.0],[-4.1,-2.02],[-3.4,-1.98],[-2.0,-2.02],[-1.3,-2.0],[0.0,-2.02],[0.7,-1.98],[1.4,-2.02],[2.7,-2.0],[3.4,-2.02],[4.1,-1.98],[4.9,-2.02],[5.7,-1.95],
  [-4.3,-2.4],[-3.6,-2.42],[-2.1,-2.38],[-1.4,-2.42],[-0.7,-2.4],[0.1,-2.42],[1.3,-2.38],[2.0,-2.42],[2.7,-2.4],[3.4,-2.42],[4.2,-2.38],[4.9,-2.42],
  [-4.0,-2.8],[-3.3,-2.82],[-2.0,-2.78],[-1.3,-2.82],[-0.6,-2.8],[0.2,-2.82],[0.9,-2.78],[1.6,-2.82],[2.3,-2.8],[3.0,-2.82],[3.7,-2.78],[4.4,-2.82],
  [-3.5,-3.2],[-2.8,-3.22],[-2.1,-3.18],[-1.4,-3.22],[-0.7,-3.2],[0.0,-3.22],[0.7,-3.18],[1.4,-3.22],[2.1,-3.2],[2.8,-3.22],[3.6,-3.18],
  [-3.0,-3.6],[-2.0,-3.62],[-1.3,-3.58],[-0.5,-3.62],[0.1,-3.6],[0.9,-3.62],[1.7,-3.58],[2.6,-3.62],[3.2,-3.6],
  [-1.2,-4.0],[0.3,-4.02],[1.1,-3.98],
];
const allMean: P[] = [[1.21, 0.076]];
const allXTicks = [-8, -6, -4, -2, 0, 2, 4, 6, 8];
const allYTicks = [-5, -4, -3, -2, -1, 0, 1, 2, 3, 4, 5];

const panelTitles = ["ND2", "β-fibint7", "CXCR4", "All loci"];

interface PanelSpec {
  title: string;
  points: P[];
  mean: P[];
  xTicks: number[];
  yTicks: number[];
  left: number;
  top: number;
  pad: { left: number; right: number; top: number; bottom: number };
  tickSize: number;
  titleX: number;
  titleY: number;
}

const PANELS: PanelSpec[] = [
  { title: panelTitles[0], points: nd2Points.concat(nd2PointsFill), mean: nd2Mean, xTicks: nd2XTicks, yTicks: nd2YTicks, left: 0, top: 0,
    pad: { left: 22.5, right: 8.3, top: 21.7, bottom: 13 }, tickSize: 10.5, titleX: 18, titleY: 16.5 },
  { title: panelTitles[1], points: fibPoints.concat(fibPointsFill), mean: fibMean, xTicks: fibXTicks, yTicks: fibYTicks, left: 315, top: 0,
    pad: { left: 28.3, right: 11.7, top: 18.5, bottom: 12.5 }, tickSize: 10.5, titleX: 17.3, titleY: 16.5 },
  { title: panelTitles[2], points: cxPoints.concat(cxPointsFill), mean: cxMean, xTicks: cxXTicks, yTicks: cxYTicks, left: 0, top: 318,
    pad: { left: 30.7, right: 19, top: 17.3, bottom: 13 }, tickSize: 9.5, titleX: 17.3, titleY: 17.2 },
  { title: panelTitles[3], points: allPoints.concat(allPointsFill), mean: allMean, xTicks: allXTicks, yTicks: allYTicks, left: 315, top: 318,
    pad: { left: 22.7, right: 8.3, top: 17.3, bottom: 11.3 }, tickSize: 10.5, titleX: 20.7, titleY: 14.8 },
];

const fmt = (v: number | string) => String(Math.round(Number(v) * 1000) / 1000);

// Axis labels sit above the grey cloud (as in the original); the mean marker is then redrawn on top.
const meanOnTop = {
  id: "meanOnTop",
  afterDraw(chart: any) {
    const meta = chart.getDatasetMeta(0);
    if (meta && meta.controller) meta.controller.draw();
  },
};

function Panel({ spec }: { spec: PanelSpec }) {
  const ref = useRef<HTMLCanvasElement>(null);
  useEffect(() => {
    if (!ref.current) return;
    const tickFont = { family: '"Liberation Sans", Arial, sans-serif', size: spec.tickSize };
    const chart = new Chart(ref.current, {
      type: "scatter",
      data: {
        datasets: [
          {
            data: spec.mean.map(([x, y]) => ({ x, y })),
            pointStyle: "triangle",
            pointRadius: 6.8,
            backgroundColor: "#111111",
            borderWidth: 0,
            order: 0,
          },
          {
            data: spec.points.map(([x, y]) => ({ x, y })),
            pointStyle: "circle",
            pointRadius: 3.1,
            backgroundColor: "#d9d9d9",
            borderWidth: 0,
            order: 1,
          },
        ],
      },
      options: {
        animation: false,
        responsive: false,
        maintainAspectRatio: false,
        events: [],
        layout: { padding: spec.pad },
        plugins: { legend: { display: false }, tooltip: { enabled: false }, title: { display: false } },
        scales: {
          x: {
            type: "linear",
            position: "center",
            z: 1,
            min: spec.xTicks[0],
            max: spec.xTicks[spec.xTicks.length - 1],
            afterBuildTicks: (s: any) => { s.ticks = spec.xTicks.map((v) => ({ value: v })); },
            grid: { display: true, color: "rgba(0,0,0,0)", drawTicks: false },
            border: { display: true, color: "#c6c6c6", width: 1 },
            ticks: { autoSkip: false, maxRotation: 0, minRotation: 0, padding: 7, color: "#595959", font: tickFont, callback: (v: any) => fmt(v) },
          },
          y: {
            type: "linear",
            position: "center",
            z: 1,
            min: spec.yTicks[0],
            max: spec.yTicks[spec.yTicks.length - 1],
            afterBuildTicks: (s: any) => { s.ticks = spec.yTicks.map((v) => ({ value: v })); },
            grid: { display: true, color: "rgba(0,0,0,0)", drawTicks: false },
            border: { display: true, color: "#c6c6c6", width: 1 },
            ticks: { autoSkip: false, padding: 8.5, color: "#595959", font: tickFont, callback: (v: any) => fmt(v) },
          },
        },
      },
      plugins: [meanOnTop],
    } as any);
    return () => chart.destroy();
  }, [spec]);
  return (
    <>
      <canvas
        ref={ref}
        width={315}
        height={318}
        style={{ position: "absolute", left: spec.left, top: spec.top, width: 315, height: 318 }}
      />
      <div
        style={{
          position: "absolute",
          left: spec.left + spec.titleX,
          top: spec.top + spec.titleY,
          font: 'bold 16px "Liberation Sans", Arial, sans-serif',
          lineHeight: "16px",
          color: "#1a1a1a",
          whiteSpace: "nowrap",
        }}
      >
        {spec.title}
      </div>
    </>
  );
}

const lineColor = "#e2e2e2";

export default function App() {
  return (
    <div style={{ position: "absolute", left: 0, top: 0, width: 630, height: 636, background: "#ffffff", overflow: "hidden" }}>
      <div style={{ position: "absolute", left: 5, top: 5, width: 625, height: 1, background: lineColor }} />
      <div style={{ position: "absolute", left: 5, top: 5, width: 1, height: 631, background: lineColor }} />
      <div style={{ position: "absolute", left: 322, top: 5, width: 1, height: 631, background: lineColor }} />
      <div style={{ position: "absolute", left: 5, top: 321, width: 625, height: 1, background: lineColor }} />
      {PANELS.map((p) => (
        <Panel key={p.title} spec={p} />
      ))}
    </div>
  );
}
